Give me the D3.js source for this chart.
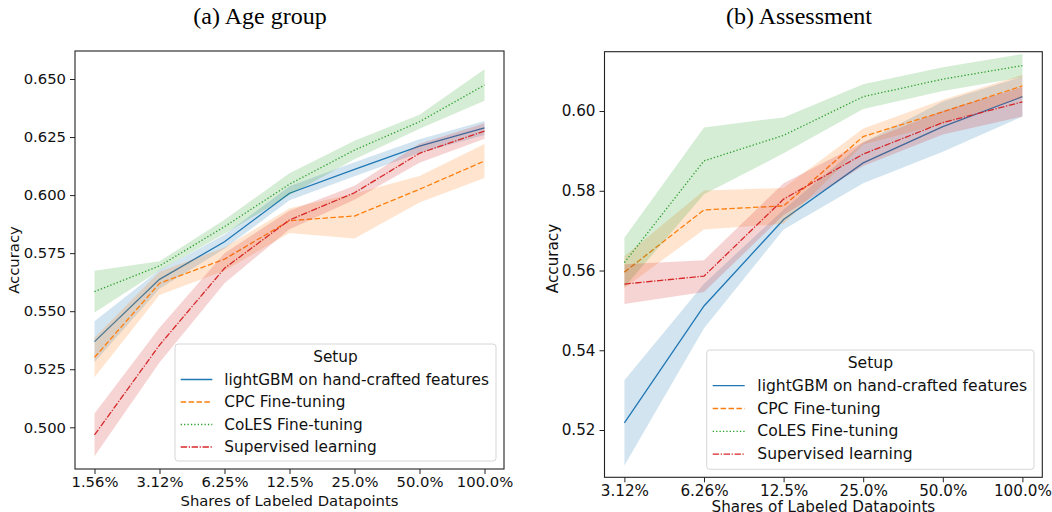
<!DOCTYPE html>
<html>
<head>
<meta charset="utf-8">
<script src="https://cdn.jsdelivr.net/npm/d3@7"></script>
<style>
body { margin: 0; background: #fff; }
svg { font-family: "DejaVu Sans", sans-serif; }
</style>
</head>
<body>
<div id="chart"></div>
<script>
// ---- data (a) Age group ----
var ageShares = ["1.56%", "3.12%", "6.25%", "12.5%", "25.0%", "50.0%", "100.0%"];
var ageTicks = [0.500, 0.525, 0.550, 0.575, 0.600, 0.625, 0.650];
var ageLgbm = [0.5369, 0.5637, 0.5799, 0.6008, 0.6111, 0.6211, 0.6289];
var ageLgbmErr = [0.0088, 0.0040, 0.0030, 0.0030, 0.0030, 0.0030, 0.0030];
var ageCpc = [0.5301, 0.5620, 0.5724, 0.5890, 0.5910, 0.6025, 0.6147];
var ageCpcErr = [0.0085, 0.0050, 0.0050, 0.0053, 0.0097, 0.0057, 0.0073];
var ageColes = [0.5584, 0.5695, 0.5864, 0.6047, 0.6194, 0.6316, 0.6474];
var ageColesErr = [0.0090, 0.0020, 0.0030, 0.0047, 0.0040, 0.0030, 0.0068];
var ageSup = [0.4967, 0.5354, 0.5685, 0.5893, 0.6010, 0.6180, 0.6276];
var ageSupErr = [0.0092, 0.0075, 0.0065, 0.0040, 0.0030, 0.0041, 0.0033];

// ---- data (b) Assessment ----
var assShares = ["3.12%", "6.26%", "12.5%", "25.0%", "50.0%", "100.0%"];
var assTicks = [0.52, 0.54, 0.56, 0.58, 0.60];
var assLgbm = [0.5218, 0.5511, 0.5728, 0.5870, 0.5961, 0.6036];
var assLgbmErr = [0.0107, 0.0056, 0.0025, 0.0051, 0.0063, 0.0050];
var assCpc = [0.5596, 0.5752, 0.5762, 0.5936, 0.5998, 0.6063];
var assCpcErr = [0.0040, 0.0049, 0.0045, 0.0020, 0.0030, 0.0028];
var assColes = [0.5620, 0.5875, 0.5939, 0.6036, 0.6080, 0.6114];
var assColesErr = [0.0062, 0.0084, 0.0045, 0.0031, 0.0030, 0.0029];
var assSup = [0.5566, 0.5586, 0.5779, 0.5892, 0.5971, 0.6023];
var assSupErr = [0.0050, 0.0040, 0.0040, 0.0030, 0.0030, 0.0037];

var setupNames = ["lightGBM on hand-crafted features", "CPC Fine-tuning", "CoLES Fine-tuning", "Supervised learning"];
var colors = ["#1f77b4", "#ff7f0e", "#2ca02c", "#d62728"];
var dashes = [null, "5.5,2.4", "1.3,2.1", "6.4,1.6,1.3,1.6"];

var svg = d3.select("#chart").append("svg")
    .attr("width", 1052)
    .attr("height", 512);

function panel(o) {
  var x = d3.scalePoint()
      .domain(o.shares)
      .range([o.left, o.right])
      .padding(0.05 * (o.shares.length - 1));

  var y = d3.scaleLinear()
      .domain(o.ydomain)
      .range([o.bottom, o.top]);

  var g = svg.append("g");

  // title above the panel
  svg.append("text")
      .attr("x", o.titleX)
      .attr("y", 24)
      .attr("text-anchor", "middle")
      .style("font-family", "'Liberation Serif', 'Times New Roman', serif")
      .style("font-size", "24px")
      .text(o.title);

  // bands then lines, in series order
  o.series.forEach(function(s, k) {
    var pts = o.shares.map(function(d, i) { return {c: d, m: s.mean[i], e: s.err[i]}; });

    var area = d3.area()
        .x(function(d) { return x(d.c); })
        .y0(function(d) { return y(d.m - d.e); })
        .y1(function(d) { return y(d.m + d.e); });

    var line = d3.line()
        .x(function(d) { return x(d.c); })
        .y(function(d) { return y(d.m); });

    g.append("path")
        .datum(pts)
        .attr("d", area)
        .style("fill", colors[k])
        .style("fill-opacity", 0.2)
        .style("stroke", "none");

    g.append("path")
        .datum(pts)
        .attr("d", line)
        .style("fill", "none")
        .style("stroke", colors[k])
        .style("stroke-width", 1.3)
        .style("stroke-dasharray", dashes[k]);
  });

  // axes
  var yAxis = g.append("g")
      .attr("transform", "translate(" + o.left + ",0)")
      .call(d3.axisLeft(y).tickValues(o.ticks).tickFormat(d3.format(o.fmt)).tickSize(5).tickPadding(4));

  var xAxis = g.append("g")
      .attr("transform", "translate(0," + o.bottom + ")")
      .call(d3.axisBottom(x).tickSize(5).tickPadding(o.xpad));

  [yAxis, xAxis].forEach(function(a) {
    a.select(".domain").remove();
    a.selectAll(".tick line").style("stroke", "#222").style("stroke-width", 1);
    a.selectAll(".tick text")
        .style("font-family", "'DejaVu Sans', sans-serif")
        .style("font-size", o.tickFont + "px")
        .style("fill", "#111");
  });

  // frame
  g.append("rect")
      .attr("x", o.left)
      .attr("y", o.top)
      .attr("width", o.right - o.left)
      .attr("height", o.bottom - o.top)
      .style("fill", "none")
      .style("stroke", "#222")
      .style("stroke-width", 1.1);

  g.append("text")
      .attr("transform", "translate(" + o.ylabX + "," + o.ylabY + ") rotate(-90)")
      .attr("text-anchor", "middle")
      .attr("dominant-baseline", "central")
      .style("font-size", o.tickFont + "px")
      .style("fill", "#111")
      .text("Accuracy");

  g.append("text")
      .attr("x", (o.left + o.right) / 2)
      .attr("y", o.xlabY)
      .attr("text-anchor", "middle")
      .attr("dominant-baseline", "central")
      .style("font-size", o.tickFont + "px")
      .style("fill", "#111")
      .text("Shares of Labeled Datapoints");

  // legend
  var L = o.legend;
  var leg = g.append("g");
  leg.append("rect")
      .attr("x", L.x)
      .attr("y", L.y)
      .attr("width", L.w)
      .attr("height", L.h)
      .attr("rx", 3)
      .style("fill", "#fff")
      .style("fill-opacity", 0.8)
      .style("stroke", "#d6d6d6")
      .style("stroke-width", 1);

  leg.append("text")
      .attr("x", L.x + L.w / 2)
      .attr("y", L.titleY)
      .attr("text-anchor", "middle")
      .attr("dominant-baseline", "central")
      .style("font-size", L.font + "px")
      .style("fill", "#111")
      .text("Setup");

  var rows = leg.selectAll(".row")
      .data(setupNames)
      .enter().append("g")
      .attr("class", "row")
      .attr("transform", function(d, i) { return "translate(0," + (L.row0 + i * L.step) + ")"; });

  rows.append("line")
      .attr("x1", L.hx0)
      .attr("x2", L.hx1)
      .attr("y1", 0)
      .attr("y2", 0)
      .style("stroke", function(d, i) { return colors[i]; })
      .style("stroke-width", 1.3)
      .style("stroke-dasharray", function(d, i) { return dashes[i]; });

  rows.append("text")
      .attr("x", L.tx)
      .attr("y", 0)
      .attr("dominant-baseline", "central")
      .style("font-size", L.font + "px")
      .style("fill", "#111")
      .text(function(d) { return d; });
}

panel({
  title: "(a) Age group", titleX: 260,
  shares: ageShares, ticks: ageTicks, fmt: ".3f",
  left: 75, right: 504, top: 51, bottom: 469,
  ydomain: [0.48204, 0.66206],
  tickFont: 14.8, xpad: 2.5,
  ylabX: 13.5, ylabY: 260, xlabY: 500,
  series: [
    {mean: ageLgbm, err: ageLgbmErr},
    {mean: ageCpc, err: ageCpcErr},
    {mean: ageColes, err: ageColesErr},
    {mean: ageSup, err: ageSupErr}
  ],
  legend: {x: 175, y: 344, w: 321, h: 117, titleY: 356.7, row0: 379.5, step: 22.5,
           hx0: 180.7, hx1: 212.3, tx: 224.3, font: 15.3}
});

panel({
  title: "(b) Assessment", titleX: 799,
  shares: assShares, ticks: assTicks, fmt: ".2f",
  left: 604.5, right: 1042.3, top: 51.7, bottom: 477.3,
  ydomain: [0.50814, 0.61488],
  tickFont: 15.2, xpad: 2.7,
  ylabX: 553.3, ylabY: 258.5, xlabY: 507,
  series: [
    {mean: assLgbm, err: assLgbmErr},
    {mean: assCpc, err: assCpcErr},
    {mean: assColes, err: assColesErr},
    {mean: assSup, err: assSupErr}
  ],
  legend: {x: 706.7, y: 350, w: 327.3, h: 119.3, titleY: 362.7, row0: 385.7, step: 22.8,
           hx0: 712.7, hx1: 744.7, tx: 757.3, font: 15.6}
});
</script>
</body>
</html>
